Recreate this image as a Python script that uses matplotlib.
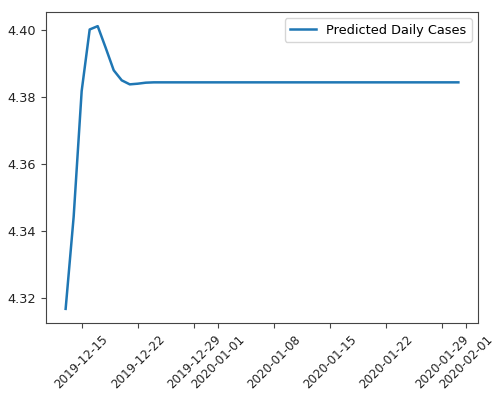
import numpy as np
import pandas as pd
import matplotlib
matplotlib.use("Agg")
import matplotlib.pyplot as plt
import matplotlib.dates as mdates

# Forecast horizon: daily predictions from 2019-12-13 to 2020-01-31
dates = pd.date_range("2019-12-13", "2020-01-31", freq="D")

predicted = [
    4.3167, 4.3442, 4.3818, 4.4002, 4.4012, 4.3947, 4.3880, 4.3850,
    4.3838, 4.3840, 4.3843, 4.3844, 4.3844, 4.3844, 4.3844, 4.3844,
    4.3844, 4.3844, 4.3844, 4.3844, 4.3844, 4.3844, 4.3844, 4.3844,
    4.3844, 4.3844, 4.3844, 4.3844, 4.3844, 4.3844, 4.3844, 4.3844,
    4.3844, 4.3844, 4.3844, 4.3844, 4.3844, 4.3844, 4.3844, 4.3844,
    4.3844, 4.3844, 4.3844, 4.3844, 4.3844, 4.3844, 4.3844, 4.3844,
    4.3844, 4.3844,
]

plt.rcParams["font.family"] = "DejaVu Sans"
plt.rcParams["font.size"] = 9.3

fig = plt.figure(figsize=(4.93, 3.99), dpi=100)
ax = fig.add_axes([46 / 493, 1 - 323 / 399, (478 - 46) / 493, (323 - 12) / 399])

ax.plot(dates, predicted, label="Predicted Daily Cases", linewidth=1.8)

ax.xaxis.set_major_locator(mdates.DayLocator(bymonthday=[1, 8, 15, 22, 29]))
ax.xaxis.set_major_formatter(mdates.DateFormatter("%Y-%m-%d"))
ax.set_yticks([4.32, 4.34, 4.36, 4.38, 4.40])
ax.yaxis.set_major_formatter(matplotlib.ticker.FormatStrFormatter("%.2f"))
plt.setp(ax.get_xticklabels(), rotation=45, fontsize=8.6)

for s in ax.spines.values():
    s.set_color("#444444")
ax.tick_params(colors="#444444", labelcolor="#222222")

ax.legend(loc="upper right")

fig.savefig("out.png", dpi=100)
